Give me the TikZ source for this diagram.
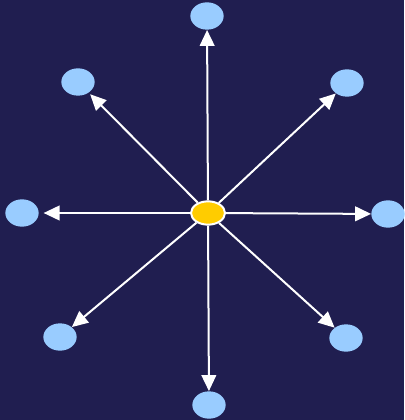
\documentclass[tikz,border=0pt]{standalone}
\usepackage{tikz}
\usetikzlibrary{
    shapes.geometric, % For ellipses
    arrows.meta       % For triangle arrow tips
}
\definecolor{NightNavy}{HTML}{201E50}
\definecolor{SkyNode}{HTML}{99CCFF}
\definecolor{HubGold}{HTML}{FFCC00}
\tikzset{
    % The central source node
    hub_node/.style={
        ellipse, draw=white, line width=1.5pt, fill=HubGold,
        minimum width=25.5pt, minimum height=17.5pt, inner sep=0pt
    },
    % The outer target nodes
    sat_node/.style={
        ellipse, draw=none, fill=SkyNode,
        minimum width=25pt, minimum height=20.5pt, inner sep=0pt
    },
    % White arrows with triangle heads
    ray_arrow/.style={-{Triangle[length=12pt,width=11pt]}, line width=1.5pt, draw=white}
}

\begin{document}
\begin{tikzpicture}[x=0.75pt, y=-0.75pt]

% --- BACKGROUND ---
\fill[NightNavy] (0,0) rectangle (404,420);
\useasboundingbox (0,0) rectangle (404,420);

% --- NODE DEFINITIONS ---

% Centre
\node[hub_node] (hub) at (208,213) {};

% Outer ring
\node[sat_node] (sat_n)  at (207,16)  {};
\node[sat_node] (sat_ne) at (347,83)  {};
\node[sat_node] (sat_e)  at (388,214) {};
\node[sat_node] (sat_se) at (346,338) {};
\node[sat_node] (sat_s)  at (209,405) {};
\node[sat_node] (sat_sw) at (60,337)  {};
\node[sat_node] (sat_w)  at (22,213)  {};
\node[sat_node] (sat_nw) at (78,82)   {};

% --- EDGE ROUTING ---
\draw[ray_arrow] (hub) -- (sat_n);
\draw[ray_arrow] (hub) -- (sat_ne);
\draw[ray_arrow] (hub) -- (sat_e);
\draw[ray_arrow] (hub) -- (sat_se);
\draw[ray_arrow] (hub) -- (sat_s);
\draw[ray_arrow] (hub) -- (sat_sw);
\draw[ray_arrow, shorten >=3.5pt] (hub) -- (sat_w);
\draw[ray_arrow, shorten >=1.5pt] (hub) -- (sat_nw);

\end{tikzpicture}
\end{document}
